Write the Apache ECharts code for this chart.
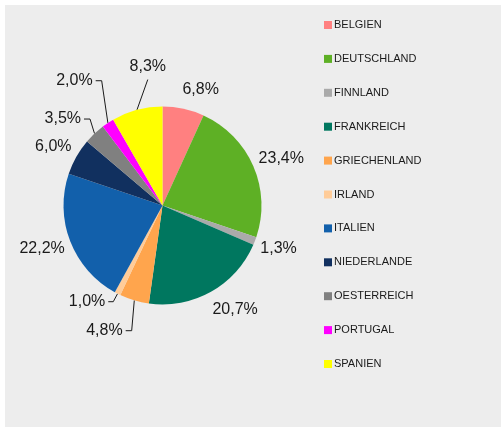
<!DOCTYPE html>
<html><head><meta charset="utf-8">
<script src="https://cdn.jsdelivr.net/npm/echarts@6/dist/echarts.min.js"></script>
<style>
html,body{margin:0;padding:0;background:#fff;}
#c{position:absolute;left:5px;top:5px;width:496px;height:422px;background:#ededed;}
</style>
</head><body><div id="c"></div>
<script>
const categories = ['BELGIEN','DEUTSCHLAND','FINNLAND','FRANKREICH','GRIECHENLAND','IRLAND','ITALIEN','NIEDERLANDE','OESTERREICH','PORTUGAL','SPANIEN'];
const shares = [6.8, 23.4, 1.3, 20.7, 4.8, 1.0, 22.2, 6.0, 3.5, 2.0, 8.3];
const colors = ['#ff8080','#5eb025','#aaaaaa','#00775f','#ffa54d','#ffcc99','#1260ab','#11305f','#808080','#ff00ff','#ffff00'];
// leader-line style per slice: [elbow dx, elbow dy, horizontal tail]; null = no leader
const leaders = [null,null,null,null,[-2.6,30.3,-6],[-4.3,8,-5],null,null,[-4.5,-14.5,-6],[-6.2,-42.2,-6],[10.8,-30.3,0]];

const CX = 157.5, CY = 200.5, R = 99;
const total = shares.reduce((a,b)=>a+b,0);
const mids = []; let acc = 0;
shares.forEach(v => { mids.push(acc + v/2); acc += v; });

function labelLayout(p){
  const i = p.dataIndex;
  const a = mids[i]/total*2*Math.PI;
  const dx = Math.sin(a), dy = -Math.cos(a);
  const ex = CX + dx*R, ey = CY + dy*R;
  const L = leaders[i];
  if (!L) {
    const px = CX + dx*(R+9), py = CY + dy*(R+9);
    return {x: px + (dx>0?-3:3), y: py + dy*11, align: dx>0?'left':'right', verticalAlign:'middle'};
  }
  const kx = ex + L[0], ky = ey + L[1];
  if (L[2] === 0) {
    return {x: kx, y: ky-5, align:'center', verticalAlign:'bottom', labelLinePoints: [[ex,ey],[kx,ky],[kx,ky]]};
  }
  const hx = kx + L[2];
  return {x: hx-3, y: ky, align:'right', verticalAlign:'middle', labelLinePoints: [[ex,ey],[kx,ky],[hx,ky]]};
}

const chart = echarts.init(document.getElementById('c'), null, {renderer:'canvas'});
chart.setOption({
  animation: false,
  backgroundColor: '#ededed',
  color: colors,
  legend: {
    orient: 'vertical', left: 314, top: 9.5,
    itemWidth: 8, itemHeight: 8, itemGap: 22.9,
    icon: 'rect', selectedMode: false,
    data: categories,
    textStyle: {fontFamily: 'Liberation Sans, Arial, sans-serif', fontSize: 11, color: '#1a1a1a', padding: [0,0,0,-3]}
  },
  series: [{
    type: 'pie',
    center: [CX, CY], radius: R,
    startAngle: 90, clockwise: true,
    avoidLabelOverlap: false,
    minShowLabelAngle: 0,
    emphasis: {disabled: true},
    itemStyle: {borderWidth: 0},
    label: {
      show: true, position: 'outside',
      fontFamily: 'Liberation Sans, Arial, sans-serif', fontSize: 16, color: '#1a1a1a',
      formatter: p => p.value.toFixed(1).replace('.', ',') + '%'
    },
    labelLine: {show: false, lineStyle: {color: '#1a1a1a', width: 1}},
    labelLayout: labelLayout,
    data: categories.map((c, i) => ({
      name: c, value: shares[i],
      labelLine: {show: !!leaders[i], length: 5, length2: 5, lineStyle: {color: '#1a1a1a', width: 1}}
    }))
  }]
});
</script>
</body></html>
